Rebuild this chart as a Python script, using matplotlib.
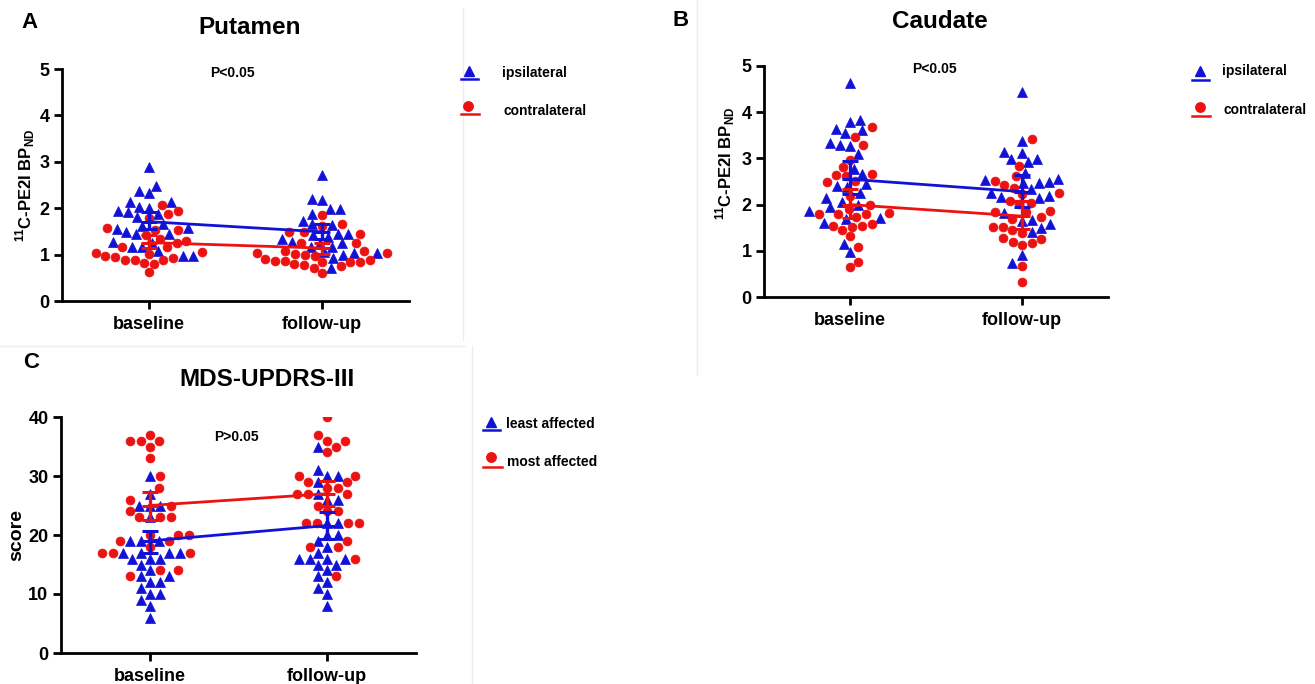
import numpy as np
import matplotlib
matplotlib.use("Agg")
import matplotlib.pyplot as plt
from matplotlib.lines import Line2D

plt.rcParams['font.family'] = ['Liberation Sans', 'DejaVu Sans']
plt.rcParams['font.weight'] = 'bold'
plt.rcParams['mathtext.fontset'] = 'custom'
plt.rcParams['mathtext.rm'] = 'Liberation Sans:bold'
plt.rcParams['mathtext.bf'] = 'Liberation Sans:bold'

# ---------------- data ----------------
groups = ["baseline", "follow-up"]

put_ipsi_base = [2.89, 2.47, 2.36, 2.33, 2.13, 2.13, 2.03, 1.95, 1.91, 2.00, 1.87, 1.80, 1.62, 1.65,
                 1.45, 1.45, 1.48, 1.55, 1.57, 1.24, 1.17, 1.17, 1.28, 0.97, 0.98, 1.08]
put_contra_base = [2.07, 1.94, 1.87, 1.78, 1.57, 1.52, 1.54, 1.42, 1.34, 1.30, 1.24, 1.17, 1.17, 1.06,
                   1.01, 0.97, 0.89, 0.89, 0.89, 0.81, 0.80, 0.93, 0.95, 1.03, 0.62]
put_ipsi_fu = [2.72, 2.18, 2.20, 1.98, 1.98, 1.87, 1.64, 1.65, 1.72, 1.44, 1.39, 1.42, 1.44, 1.28,
               1.34, 1.24, 1.26, 1.17, 1.17, 1.06, 1.03, 0.93, 0.99, 1.03, 0.72]
put_contra_fu = [1.85, 1.66, 1.62, 1.49, 1.44, 1.48, 1.24, 1.24, 1.03, 1.01, 1.08, 1.08, 1.00, 0.97,
                 1.03, 0.90, 0.86, 0.83, 0.83, 0.84, 0.88, 0.86, 0.78, 0.72, 0.76, 0.79, 0.61]

cau_ipsi_base = [4.63, 3.83, 3.79, 3.63, 3.61, 3.54, 3.34, 3.27, 3.29, 3.10, 2.77, 2.66, 2.44, 2.41,
                 2.39, 2.26, 2.14, 2.06, 1.99, 1.95, 1.87, 1.70, 1.61, 1.69, 1.14, 0.97]
cau_contra_base = [3.67, 3.46, 3.29, 2.97, 2.82, 2.64, 2.62, 2.66, 2.51, 2.48, 2.19, 1.99, 1.90, 1.80,
                   1.74, 1.82, 1.80, 1.80, 1.54, 1.52, 1.57, 1.54, 1.44, 1.31, 1.09, 0.76, 0.64]
cau_ipsi_fu = [4.44, 3.38, 3.12, 3.14, 2.99, 2.93, 2.98, 2.68, 2.55, 2.53, 2.50, 2.47, 2.47, 2.34,
               2.26, 2.17, 2.14, 2.19, 1.82, 1.67, 1.65, 1.58, 1.49, 1.41, 0.91, 0.73]
cau_contra_fu = [3.43, 2.84, 2.62, 2.42, 2.52, 2.37, 2.24, 2.26, 2.08, 2.04, 2.01, 1.86, 1.85, 1.85,
                 1.68, 1.74, 1.52, 1.52, 1.44, 1.39, 1.28, 1.20, 1.16, 1.13, 1.25, 0.67, 0.32]

upd_least_base = [30, 27, 25, 25, 25, 23, 19, 19, 19, 17, 17, 17, 17, 16, 16, 16, 15, 14, 13, 13,
                  12, 12, 11, 10, 10, 9, 8, 6]
upd_most_base = [37, 36, 36, 36, 35, 33, 30, 28, 26, 25, 24, 23, 23, 23, 20, 20, 20, 19, 19, 18,
                 17, 17, 17, 14, 14, 13]
upd_least_fu = [35, 31, 30, 30, 29, 27, 26, 26, 22, 22, 20, 20, 19, 18, 17, 16, 16, 16, 16, 15,
                15, 14, 13, 12, 11, 10, 8]
upd_most_fu = [40, 37, 36, 36, 35, 34, 30, 30, 29, 29, 28, 28, 27, 27, 27, 25, 24, 24, 22, 22,
               22, 22, 19, 18, 18, 16, 13]

# means and 95% CI (low, high): [baseline, follow-up]
put_ipsi_mean = [1.71, 1.49]
put_ipsi_lo = [1.55, 1.33]
put_ipsi_hi = [1.92, 1.67]
put_contra_mean = [1.26, 1.14]
put_contra_lo = [1.14, 1.01]
put_contra_hi = [1.42, 1.26]

cau_ipsi_mean = [2.55, 2.28]
cau_ipsi_lo = [2.22, 1.95]
cau_ipsi_hi = [2.94, 2.63]
cau_contra_mean = [2.00, 1.75]
cau_contra_lo = [1.70, 1.47]
cau_contra_hi = [2.33, 2.08]

upd_least_mean = [19.0, 21.6]
upd_least_lo = [16.9, 19.3]
upd_least_hi = [20.7, 23.9]
upd_most_mean = [25.0, 27.0]
upd_most_lo = [22.5, 25.0]
upd_most_hi = [27.3, 29.2]

BLUE = '#1212d6'
RED = '#ec1212'

W, H = 1315, 684
fig = plt.figure(figsize=(W / 100, H / 100), dpi=100)


def fr(x0, y0, x1, y1):
    # pixel box -> fig fraction rect
    return [x0 / W, 1 - y1 / H, (x1 - x0) / W, (y1 - y0) / H]


def swarm(vals_px, d):
    order = np.argsort(vals_px, kind='stable')
    placed = []
    xs = np.zeros(len(vals_px))
    flip = 1
    for i in order:
        y = vals_px[i]
        cands = [0.0]
        near = [(px, py) for px, py in placed if abs(py - y) < d]
        for px, py in near:
            dx = np.sqrt(max(d * d - (py - y) ** 2, 0))
            cands += [px - dx, px + dx]
        best = None
        for c in sorted(cands, key=lambda c: (round(abs(c), 3), flip * c)):
            ok = all((c - px) ** 2 + (y - py) ** 2 >= d * d - 1e-3 for px, py in near)
            if ok:
                best = c
                break
        flip = -flip
        xs[i] = best
        placed.append((best, y))
    return xs


def panel(rect, ylim, yticks, s1, s2, m1, lo1, hi1, m2, lo2, hi2, d=10.0):
    ax = fig.add_axes(rect)
    ax.set_xlim(-0.5, 1.5)
    ax.set_ylim(*ylim)
    for sp in ['top', 'right']:
        ax.spines[sp].set_visible(False)
    for sp in ['left', 'bottom']:
        ax.spines[sp].set_linewidth(2)
    ax.set_yticks(yticks)
    ax.set_xticks([0, 1])
    ax.set_xticklabels(groups)
    ax.tick_params(axis='both', width=2, length=6, labelsize=13)
    ax.tick_params(axis='x', pad=5)
    ax.tick_params(axis='y', pad=3)
    for lab in ax.get_xticklabels() + ax.get_yticklabels():
        lab.set_fontweight('bold')
    fig.canvas.draw()
    bbox = ax.get_window_extent()
    pxx = bbox.width / 2.0
    pxy = bbox.height / (ylim[1] - ylim[0])
    for gi in range(2):
        a = np.asarray(s1[gi], float)
        b = np.asarray(s2[gi], float)
        allv = np.concatenate([a, b]) * pxy
        offs = swarm(allv, d) / pxx
        xa = gi + offs[:len(a)]
        xb = gi + offs[len(a):]
        ax.plot(xa, a, linestyle='none', marker='^', ms=6.6, color=BLUE, mec=BLUE, mew=0.5,
                zorder=3)
        ax.plot(xb, b, linestyle='none', marker='o', ms=6.4, color=RED, mec=RED, mew=0.5,
                zorder=3)
    xs = np.array([0, 1])
    for m, lo, hi, c in [(m1, lo1, hi1, BLUE), (m2, lo2, hi2, RED)]:
        m = np.asarray(m); lo = np.asarray(lo); hi = np.asarray(hi)
        ax.plot(xs, m, color=c, lw=2, zorder=4)
        ax.errorbar(xs, m, yerr=[m - lo, hi - m], fmt='_', ms=12, mew=2.2, color=c,
                    elinewidth=2.4, capsize=5.5, capthick=2.4, zorder=5)
    return ax


axA = panel(fr(62, 69, 409, 301), (0, 5), range(0, 6),
            [put_ipsi_base, put_ipsi_fu], [put_contra_base, put_contra_fu],
            put_ipsi_mean, put_ipsi_lo, put_ipsi_hi,
            put_contra_mean, put_contra_lo, put_contra_hi, d=10.0)
axB = panel(fr(764, 66, 1108, 297), (0, 5), range(0, 6),
            [cau_ipsi_base, cau_ipsi_fu], [cau_contra_base, cau_contra_fu],
            cau_ipsi_mean, cau_ipsi_lo, cau_ipsi_hi,
            cau_contra_mean, cau_contra_lo, cau_contra_hi, d=10.0)
axC = panel(fr(61, 417, 416, 653), (0, 40), range(0, 41, 10),
            [upd_least_base, upd_least_fu], [upd_most_base, upd_most_fu],
            upd_least_mean, upd_least_lo, upd_least_hi,
            upd_most_mean, upd_most_lo, upd_most_hi, d=10.6)

axA.text(0.483, 4.91, 'P<0.05', ha='center', va='center', fontsize=10, fontweight='bold')
axB.text(0.49, 4.93, 'P<0.05', ha='center', va='center', fontsize=10, fontweight='bold')
axC.text(0.49, 36.6, 'P>0.05', ha='center', va='center', fontsize=10, fontweight='bold')


def ftext(x, y, s, **kw):
    fig.text(x / W, 1 - y / H, s, **kw)


# panel letters & titles
ftext(30, 22, 'A', fontsize=16, fontweight='bold', ha='center', va='center')
ftext(681, 21, 'B', fontsize=16, fontweight='bold', ha='center', va='center')
ftext(31, 362, 'C', fontsize=16, fontweight='bold', ha='center', va='center')
ftext(250, 28, 'Putamen', fontsize=17.5, fontweight='bold', ha='center', va='center')
ftext(940, 21, 'Caudate', fontsize=17.5, fontweight='bold', ha='center', va='center')
ftext(267, 379, 'MDS-UPDRS-III', fontsize=17.5, fontweight='bold', ha='center', va='center')

ylab = r'$^{11}$C-PE2I BP$_{\mathrm{ND}}$'
ftext(25, 185, ylab, fontsize=12, fontweight='bold', rotation=90, ha='center', va='center')
ftext(725, 163, ylab, fontsize=12, fontweight='bold', rotation=90, ha='center', va='center')
ftext(17, 535, 'score', fontsize=14, fontweight='bold', rotation=90, ha='center', va='center')


# legends
def legend_entry(mx, my, ly, lx0, lx1, marker, color, tx, ty, label):
    fig.add_artist(Line2D([mx / W], [1 - my / H], marker=marker, ms=6.8, color=color,
                          linestyle='none', transform=fig.transFigure))
    fig.add_artist(Line2D([lx0 / W, lx1 / W], [1 - ly / H, 1 - ly / H], color=color, lw=1.8,
                          transform=fig.transFigure))
    ftext(tx, ty, label, fontsize=10, fontweight='bold', ha='left', va='center')


legend_entry(469, 71, 79, 461, 478, '^', BLUE, 502, 73, 'ipsilateral')
legend_entry(468, 106, 114, 461, 479, 'o', RED, 503, 111, 'contralateral')
legend_entry(1200, 71, 80, 1192, 1209, '^', BLUE, 1222, 71, 'ipsilateral')
legend_entry(1200, 107, 116, 1192, 1210, 'o', RED, 1223, 110, 'contralateral')
legend_entry(491, 422, 430, 483, 500, '^', BLUE, 506, 424, 'least affected')
legend_entry(491, 457, 467, 483, 502, 'o', RED, 507, 462, 'most affected')

# faint panel borders from the composite
faint = '#ededed'
for (x0, y0, x1, y1) in [(463, 8, 463, 340), (697, 0, 697, 375), (0, 346, 465, 346),
                         (472, 346, 472, 684)]:
    fig.add_artist(Line2D([x0 / W, x1 / W], [1 - y0 / H, 1 - y1 / H], color=faint, lw=1,
                          transform=fig.transFigure, zorder=0))

fig.savefig('out.png', dpi=100)
